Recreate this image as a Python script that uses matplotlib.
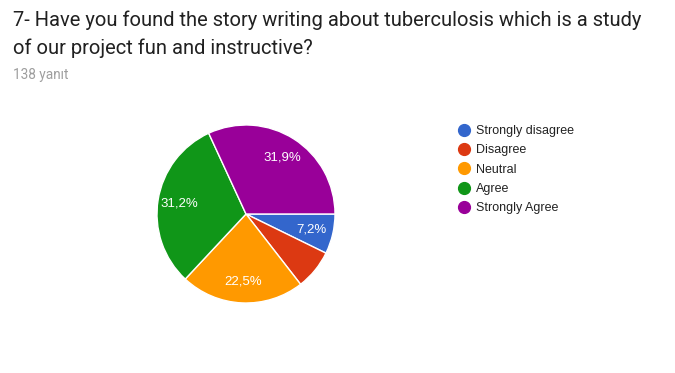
import matplotlib.pyplot as plt
from matplotlib.lines import Line2D

# Data (138 responses)
categories = ["Strongly disagree", "Disagree", "Neutral", "Agree", "Strongly Agree"]
counts = [10, 10, 31, 43, 44]
colors = ["#3366cc", "#dc3912", "#ff9900", "#109618", "#990099"]
title = "7- Have you found the story writing about tuberculosis which is a study\nof our project fun and instructive?"
subtitle = "138 yanıt"

W, H = 675, 373
fig = plt.figure(figsize=(W / 100, H / 100), dpi=100)
fig.patch.set_facecolor("white")

# Pie placed so its centre is at (246, 214) px with radius 89 px
cx, cy, r = 246, 214, 89
ax = fig.add_axes([(cx - r) / W, (H - cy - r) / H, 2 * r / W, 2 * r / H])
wedges, texts, autotexts = ax.pie(
    counts, colors=colors, startangle=0, counterclock=False,
    autopct=lambda p: f"{p:.1f}%".replace(".", ","), pctdistance=0.76,
    wedgeprops=dict(edgecolor="white", linewidth=1),
    textprops=dict(color="white", fontsize=9.5, family="Liberation Sans"),
)
autotexts[1].set_text("")  # small slice label hidden in the original
ax.set_xlim(-1, 1)
ax.set_ylim(-1, 1)
ax.set_aspect("equal")
ax.axis("off")

fig.text(13 / W, 1 - 10 / H, title, ha="left", va="top", fontsize=14.5,
         color="#212121", family="Roboto", linespacing=1.55)
fig.text(13 / W, 1 - 75 / H, subtitle, ha="left", va="center", fontsize=9.8,
         color="#9e9e9e", family="Roboto")

# Legend
handles = [Line2D([], [], marker="o", linestyle="", markersize=8.5,
                  markerfacecolor=c, markeredgecolor=c) for c in colors]
fig.legend(handles, categories, loc="upper left",
           bbox_to_anchor=(452 / W, 1 - 120 / H), frameon=False,
           prop=dict(family="Liberation Sans", size=9), labelcolor="#222222",
           handletextpad=0.3, labelspacing=0.59, handlelength=1.2,
           borderaxespad=0)

fig.savefig("out.png", dpi=100)
